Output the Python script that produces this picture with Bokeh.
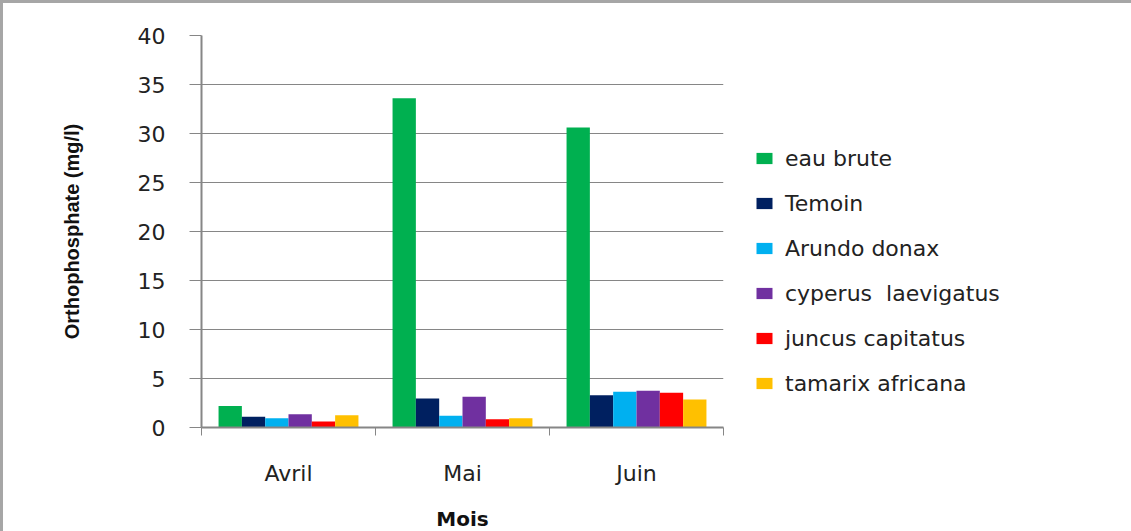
from bokeh.plotting import figure
from bokeh.models import ColumnDataSource, FixedTicker, Legend, Range1d
from bokeh.transform import dodge
from bokeh.embed import file_html
from bokeh.resources import INLINE

months = ["Avril", "Mai", "Juin"]
series_names = ["eau brute", "Temoin", "Arundo donax", "cyperus  laevigatus",
                "juncus capitatus", "tamarix africana"]
eau_brute = [2.2, 33.6, 30.6]
temoin = [1.1, 2.95, 3.3]
arundo = [0.95, 1.2, 3.65]
cyperus = [1.35, 3.15, 3.75]
juncus = [0.6, 0.85, 3.55]
tamarix = [1.25, 0.95, 2.85]
colors = ["#00B050", "#002060", "#00B0F0", "#7030A0", "#FF0000", "#FFC000"]
y_ticks = [0, 5, 10, 15, 20, 25, 30, 35, 40]

values = [eau_brute, temoin, arundo, cyperus, juncus, tamarix]
xc = [i + 0.5 for i in range(len(months))]
data = {"x": xc}
keys = ["s%d" % i for i in range(len(values))]
for k, v in zip(keys, values):
    data[k] = v
src = ColumnDataSource(data)

GRAY = "#868686"
p = figure(frame_width=522, frame_height=392, output_backend="svg", toolbar_location=None,
           x_range=Range1d(0, len(months)), y_range=Range1d(0, 40),
           min_border_left=198, min_border_top=32, min_border_bottom=0,
           min_border_right=389)
p.outline_line_color = None
p.styles = {"border": "3px solid #a6a6a6", "box-sizing": "border-box"}

w = 0.134
n = len(values)
renderers = []
for i, k in enumerate(keys):
    off = (i - (n - 1) / 2) * w
    r = p.vbar(x=dodge("x", off, range=p.x_range), top=k, width=w, source=src,
               fill_color=colors[i], line_color=None)
    renderers.append(r)

# axes
p.xaxis.ticker = FixedTicker(ticks=xc, minor_ticks=list(range(len(months) + 1)))
p.xaxis.major_label_overrides = {x: m for x, m in zip(xc, months)}
p.xaxis.major_tick_out = 0
p.xaxis.major_tick_in = 0
p.xaxis.minor_tick_out = 8
p.xaxis.minor_tick_in = 0
p.xaxis.minor_tick_line_color = GRAY
p.xaxis.axis_line_color = GRAY
p.xaxis.axis_line_width = 2
p.xaxis.major_label_text_font = "DejaVu Sans"
p.xaxis.major_label_text_font_size = "22px"
p.xaxis.major_label_text_color = "#222222"
p.xaxis.major_label_standoff = 25
p.xaxis.axis_label = "Mois"
p.xaxis.axis_label_text_font = "DejaVu Sans"
p.xaxis.axis_label_text_font_style = "bold"
p.xaxis.axis_label_text_font_size = "20px"
p.xaxis.axis_label_standoff = 18
p.xaxis.axis_label_text_color = "#111111"

p.yaxis.ticker = FixedTicker(ticks=y_ticks)
p.yaxis.minor_tick_line_color = None
p.yaxis.major_tick_out = 12
p.yaxis.major_tick_in = 0
p.yaxis.major_tick_line_color = GRAY
p.yaxis.axis_line_color = GRAY
p.yaxis.axis_line_width = 2
p.yaxis.major_label_text_font = "DejaVu Sans"
p.yaxis.major_label_text_font_size = "22px"
p.yaxis.major_label_text_color = "#222222"
p.yaxis.major_label_standoff = 24
p.yaxis.axis_label = "Orthophosphate (mg/l)"
p.yaxis.axis_label_text_font = "Liberation Sans"
p.yaxis.axis_label_text_font_style = "bold"
p.yaxis.axis_label_text_font_size = "20px"
p.yaxis.axis_label_standoff = 52
p.yaxis.axis_label_text_color = "#111111"

p.xgrid.grid_line_color = None
p.ygrid.grid_line_color = GRAY
p.ygrid.grid_line_width = 1

legend = Legend(items=[(nm, [r]) for nm, r in zip(series_names, renderers)],
                location="bottom_left")
legend.margin = 31
legend.padding = 0
legend.border_line_color = None
legend.background_fill_alpha = 0
legend.glyph_width = 20
legend.glyph_height = 14
legend.label_height = 26
legend.spacing = 19
legend.label_standoff = 11
legend.label_text_font = "DejaVu Sans"
legend.label_text_font_size = "22px"
legend.label_text_color = "#222222"
p.add_layout(legend, "right")

open("out.html", "w").write(file_html(p, INLINE))
